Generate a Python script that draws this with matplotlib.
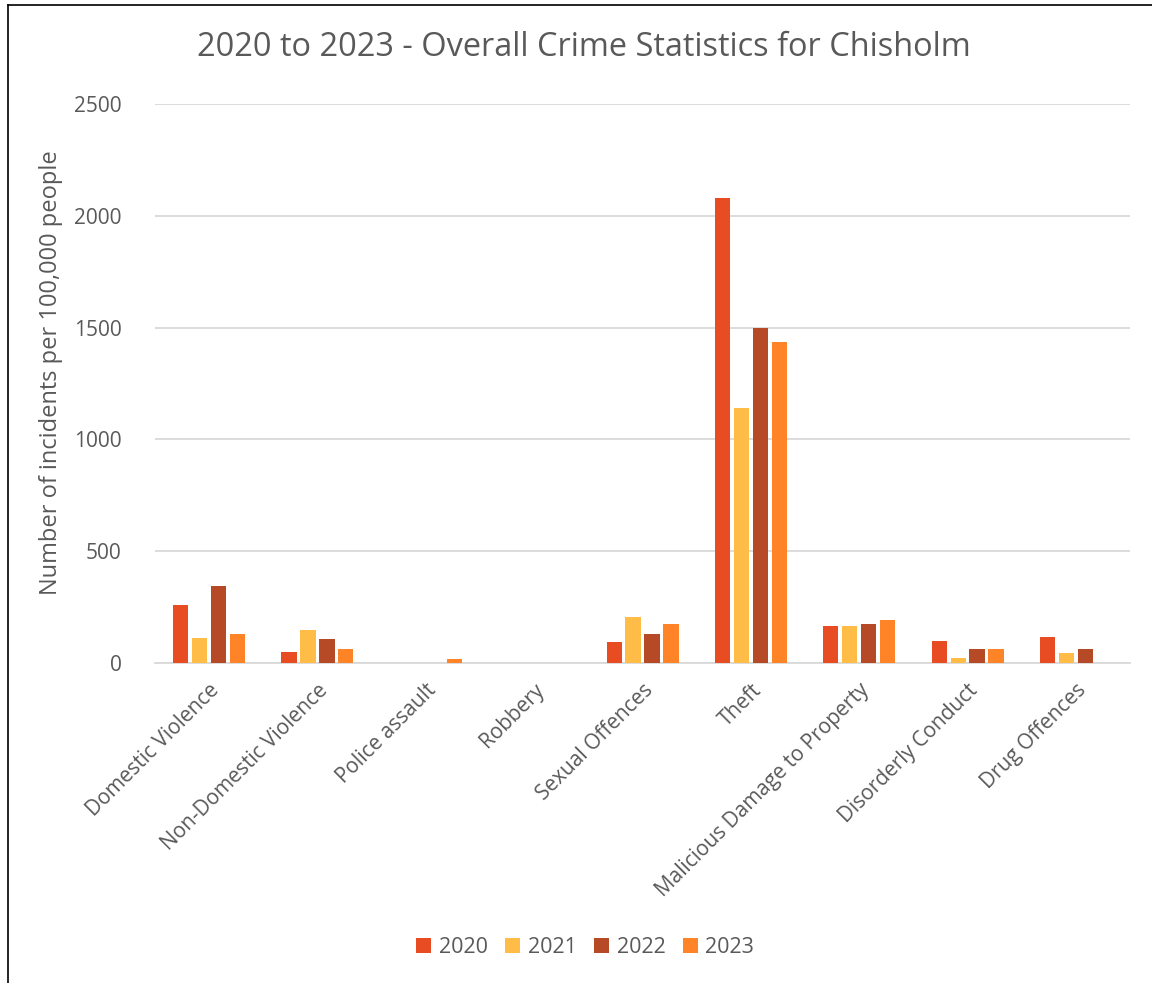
import numpy as np
import matplotlib
matplotlib.use('Agg')
import matplotlib.pyplot as plt
from matplotlib.lines import Line2D

# 数据(从图上读取, 单位: 每10万人事件数)
categories = ['Domestic Violence', 'Non-Domestic Violence', 'Police assault', 'Robbery',
              'Sexual Offences', 'Theft', 'Malicious Damage to Property',
              'Disorderly Conduct', 'Drug Offences']
years = ['2020', '2021', '2022', '2023']
v2020 = [260, 49, 0, 0, 94, 2082, 165, 98, 118]
v2021 = [113, 148, 0, 0, 206, 1140, 165, 24, 45]
v2022 = [346, 107, 0, 0, 128, 1500, 173, 63, 63]
v2023 = [128, 63, 18, 0, 173, 1434, 194, 63, 0]
colors = ['#E84C22', '#FFBD47', '#B64926', '#FF8427']

plt.rcParams['font.family'] = ['Open Sans', 'DejaVu Sans']
txt = '#595959'

fig = plt.figure(figsize=(11.52, 9.83), dpi=100)
ax = fig.add_axes([0.1345, 0.3255, 0.8465, 0.5685])

x = np.arange(len(categories))
step, w = 0.175, 0.14
for i, (vals, yr) in enumerate(zip([v2020, v2021, v2022, v2023], years)):
    ax.bar(x + (i - 1.5) * step, vals, w, color=colors[i], label=yr, zorder=3)

ax.set_ylim(0, 2500)
ax.set_xlim(-0.5, len(categories) - 0.5)
ax.set_yticks(range(0, 2501, 500))
ax.yaxis.grid(True, color='#D9D9D9', lw=1.3, zorder=0)
for s in ['top', 'right', 'left']:
    ax.spines[s].set_visible(False)
ax.spines['bottom'].set_color('#D9D9D9')
ax.spines['bottom'].set_linewidth(1.3)
ax.tick_params(length=0, labelsize=15, labelcolor=txt)
ax.tick_params(axis='y', pad=24)
ax.set_xticks(x)
ax.set_xticklabels(categories, rotation=45, ha='right', rotation_mode='anchor')
ax.tick_params(axis='x', pad=12)
ax.set_ylabel('Number of incidents per 100,000 people', fontsize=17, color=txt)
ax.yaxis.set_label_coords(-0.094, 0.52)

fig.suptitle('2020 to 2023 - Overall Crime Statistics for Chisholm',
             fontsize=23.4, color=txt, x=0.507, y=0.968)

fig.legend(loc='center', bbox_to_anchor=(0.508, 0.036), ncol=4, frameon=False,
           fontsize=15.5, labelcolor=txt, handlelength=0.7, handleheight=0.7,
           handletextpad=0.35, columnspacing=0.8)

# 图表外框(左, 上)
fig.add_artist(Line2D([0.007, 0.007], [0.0, 0.995], color='black', lw=1.2))
fig.add_artist(Line2D([0.007, 1.0], [0.995, 0.995], color='black', lw=1.2))

fig.savefig('out.png', dpi=100)
